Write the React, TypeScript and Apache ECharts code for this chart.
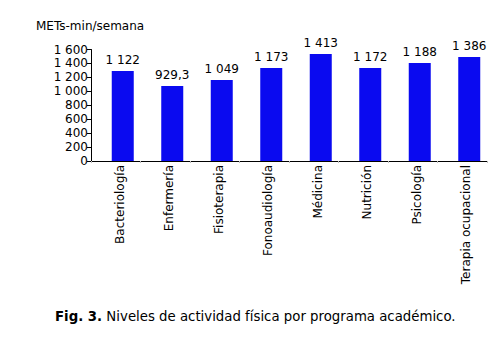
import React, { useEffect, useRef } from "react";
import * as echarts from "echarts";

const categories = [
  "Bacteriología",
  "Enfermería",
  "Fisioterapia",
  "Fonoaudiología",
  "Médicina",
  "Nutrición",
  "Psicología",
  "Terapia ocupacional",
];
// bar heights as drawn in the reference
const barValues = [1291, 1076, 1162, 1335, 1535, 1335, 1406, 1492];
// value labels printed above the bars
const valueLabels = ["1 122", "929,3", "1 049", "1 173", "1 413", "1 172", "1 188", "1 386"];
const yTicks = { min: 0, max: 1600, interval: 200 };
const yAxisTitle = "METs-min/semana";
const captionBold = "Fig. 3.";
const captionText = " Niveles de actividad física por programa académico.";

const FONT = "'DejaVu Sans', Verdana, sans-serif";

function fmt(v: number): string {
  const s = String(v);
  return s.replace(/\B(?=(\d{3})+(?!\d))/g, " ");
}

export default function App() {
  const ref = useRef<HTMLDivElement>(null);
  useEffect(() => {
    if (!ref.current) return;
    const chart = echarts.init(ref.current, null, { renderer: "svg" });
    chart.setOption({
      animation: false,
      backgroundColor: "#ffffff",
      textStyle: { fontFamily: FONT },
      grid: { left: 91, right: 17, top: 49.5, bottom: 192 },
      graphic: [
        {
          type: "text",
          left: 36,
          top: 20,
          style: { text: yAxisTitle, font: `12px ${FONT}`, fill: "#000" },
        },
        {
          type: "text",
          left: 55,
          top: 310,
          style: {
            text: `{b|${captionBold}}{n|${captionText}}`,
            rich: {
              b: { fontWeight: "bold", fontSize: 13.3, fontFamily: FONT, fill: "#000" },
              n: { fontSize: 13.3, fontFamily: FONT, fill: "#000" },
            },
          },
        },
      ],
      xAxis: {
        type: "category",
        data: categories,
        axisLine: { lineStyle: { color: "#000", width: 1 } },
        axisTick: { show: true, length: 2, lineStyle: { color: "#bbb" } },
        axisLabel: {
          rotate: 90,
          interval: 0,
          margin: 4,
          verticalAlign: "top",
          lineHeight: 8,
          fontSize: 12,
          fontFamily: FONT,
          color: "#000",
        },
      },
      yAxis: {
        type: "value",
        min: yTicks.min,
        max: yTicks.max,
        interval: yTicks.interval,
        splitLine: { show: false },
        axisLine: { show: true, lineStyle: { color: "#000", width: 1 } },
        axisTick: { show: true, length: 4, lineStyle: { color: "#000" } },
        axisLabel: {
          margin: 3,
          fontSize: 12,
          fontFamily: FONT,
          color: "#000",
          formatter: (v: number) => fmt(v),
        },
      },
      series: [
        {
          type: "bar",
          data: categories.map(() => 0),
          barWidth: 14,
          barGap: "0%",
          silent: true,
          itemStyle: { color: "rgba(0,0,0,0)" },
        },
        {
          type: "bar",
          data: barValues,
          barWidth: 22,
          barGap: "0%",
          itemStyle: { color: "#0a0af0" },
          label: {
            show: true,
            position: "top",
            distance: 5,
            fontSize: 12,
            fontFamily: FONT,
            color: "#000",
            formatter: (p: any) => valueLabels[p.dataIndex],
          },
        },
      ],
    });
    return () => chart.dispose();
  }, []);
  return (
    <div
      ref={ref}
      style={{ position: "absolute", left: 0, top: 0, width: 504, height: 353 }}
    />
  );
}
